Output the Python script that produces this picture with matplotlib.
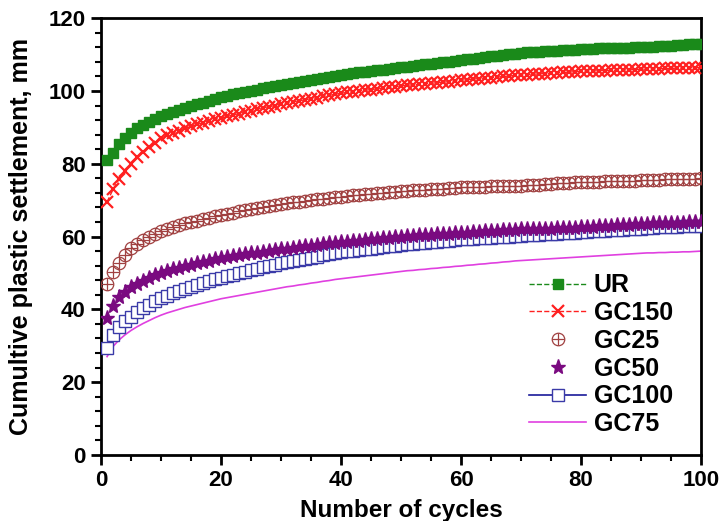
import matplotlib.pyplot as plt
from matplotlib.ticker import MultipleLocator

plt.rcParams['font.family'] = ['Liberation Sans', 'DejaVu Sans']
plt.rcParams['font.weight'] = 'bold'

cycles = list(range(1, 101))

ur = [81.0, 83.0, 85.3, 87.0, 88.5, 89.7, 90.6, 91.4, 92.2, 93.0,
      93.6, 94.2, 94.8, 95.3, 95.8, 96.3, 96.8, 97.3, 97.8, 98.3,
      98.7, 99.1, 99.5, 99.8, 100.1, 100.4, 100.7, 101.0, 101.3, 101.6,
      101.9, 102.2, 102.5, 102.8, 103.1, 103.4, 103.7, 103.9, 104.2, 104.5,
      104.7, 104.9, 105.1, 105.3, 105.5, 105.7, 105.9, 106.1, 106.3, 106.5,
      106.7, 106.9, 107.1, 107.3, 107.5, 107.7, 107.9, 108.1, 108.3, 108.5,
      108.7, 108.9, 109.1, 109.3, 109.5, 109.7, 109.9, 110.1, 110.3, 110.5,
      110.6, 110.7, 110.8, 110.9, 111.0, 111.1, 111.2, 111.3, 111.4, 111.5,
      111.6, 111.6, 111.7, 111.7, 111.8, 111.8, 111.9, 111.9, 112.0, 112.0,
      112.1, 112.2, 112.3, 112.4, 112.5, 112.6, 112.7, 112.8, 112.9, 113.0]

gc150 = [69.5, 73.0, 75.8, 78.0, 80.0, 81.8, 83.3, 84.6, 85.8, 87.0,
         87.8, 88.5, 89.1, 89.7, 90.3, 90.8, 91.3, 91.8, 92.2, 92.6,
         93.0, 93.4, 93.8, 94.2, 94.6, 95.0, 95.4, 95.7, 96.0, 96.4,
         96.7, 97.0, 97.3, 97.6, 97.9, 98.2, 98.5, 98.8, 99.1, 99.4,
         99.6, 99.8, 100.0, 100.2, 100.4, 100.6, 100.8, 101.0, 101.2, 101.4,
         101.6, 101.7, 101.8, 102.0, 102.1, 102.3, 102.4, 102.6, 102.8, 103.0,
         103.1, 103.3, 103.4, 103.6, 103.7, 103.8, 104.0, 104.1, 104.3, 104.4,
         104.5, 104.6, 104.7, 104.8, 104.9, 105.0, 105.1, 105.2, 105.3, 105.4,
         105.5, 105.5, 105.6, 105.6, 105.7, 105.7, 105.8, 105.8, 105.9, 106.0,
         106.0, 106.1, 106.1, 106.2, 106.2, 106.3, 106.3, 106.4, 106.4, 106.5]

gc25 = [47.0, 50.2, 52.8, 55.0, 56.8, 58.0, 59.1, 60.0, 60.8, 61.5,
        62.1, 62.6, 63.1, 63.6, 64.0, 64.4, 64.8, 65.2, 65.6, 66.0,
        66.3, 66.6, 66.9, 67.2, 67.5, 67.8, 68.1, 68.4, 68.7, 69.0,
        69.2, 69.4, 69.6, 69.8, 70.0, 70.2, 70.4, 70.6, 70.8, 71.0,
        71.1, 71.3, 71.4, 71.6, 71.7, 71.9, 72.0, 72.2, 72.3, 72.5,
        72.6, 72.7, 72.8, 72.9, 73.0, 73.1, 73.2, 73.3, 73.4, 73.5,
        73.6, 73.6, 73.7, 73.7, 73.8, 73.8, 73.9, 73.9, 74.0, 74.0,
        74.1, 74.2, 74.3, 74.4, 74.5, 74.6, 74.7, 74.8, 74.9, 75.0,
        75.0, 75.1, 75.1, 75.2, 75.2, 75.3, 75.3, 75.4, 75.4, 75.5,
        75.5, 75.6, 75.6, 75.7, 75.7, 75.8, 75.8, 75.9, 75.9, 76.0]

gc50 = [37.5, 41.0, 43.3, 44.8, 46.0, 47.0, 47.9, 48.7, 49.4, 50.0,
        50.5, 51.0, 51.4, 51.8, 52.2, 52.6, 53.0, 53.3, 53.7, 54.0,
        54.3, 54.6, 54.9, 55.1, 55.4, 55.6, 55.8, 56.0, 56.3, 56.5,
        56.7, 56.9, 57.1, 57.3, 57.5, 57.7, 57.9, 58.1, 58.3, 58.5,
        58.6, 58.8, 58.9, 59.1, 59.2, 59.4, 59.5, 59.7, 59.8, 60.0,
        60.1, 60.2, 60.3, 60.4, 60.5, 60.6, 60.7, 60.8, 60.9, 61.0,
        61.1, 61.2, 61.3, 61.4, 61.5, 61.6, 61.7, 61.8, 61.9, 62.0,
        62.0, 62.1, 62.1, 62.2, 62.2, 62.3, 62.3, 62.4, 62.4, 62.5,
        62.6, 62.7, 62.8, 62.9, 63.0, 63.1, 63.2, 63.3, 63.4, 63.5,
        63.5, 63.6, 63.6, 63.7, 63.7, 63.8, 63.8, 63.9, 63.9, 64.0]

gc100 = [29.5, 32.8, 35.0, 36.7, 38.0, 39.2, 40.3, 41.3, 42.2, 43.0,
         43.7, 44.4, 45.0, 45.6, 46.2, 46.7, 47.2, 47.7, 48.2, 48.7,
         49.1, 49.5, 49.9, 50.3, 50.7, 51.1, 51.5, 51.9, 52.3, 52.7,
         53.0, 53.3, 53.6, 53.9, 54.2, 54.5, 54.8, 55.1, 55.4, 55.7,
         55.9, 56.1, 56.3, 56.5, 56.7, 56.9, 57.1, 57.3, 57.5, 57.7,
         57.9, 58.0, 58.2, 58.3, 58.5, 58.6, 58.8, 58.9, 59.1, 59.2,
         59.3, 59.4, 59.5, 59.6, 59.7, 59.8, 59.9, 60.0, 60.1, 60.2,
         60.3, 60.4, 60.5, 60.6, 60.7, 60.8, 60.9, 61.0, 61.1, 61.2,
         61.3, 61.4, 61.5, 61.6, 61.7, 61.8, 61.9, 62.0, 62.1, 62.2,
         62.3, 62.4, 62.5, 62.5, 62.6, 62.7, 62.8, 62.8, 62.9, 63.0]

gc75 = [27.0, 29.8, 31.6, 33.0, 34.2, 35.2, 36.1, 36.9, 37.7, 38.4,
        39.0, 39.5, 40.0, 40.5, 40.9, 41.3, 41.7, 42.1, 42.5, 42.9,
        43.2, 43.5, 43.8, 44.1, 44.4, 44.7, 45.0, 45.3, 45.6, 45.9,
        46.2, 46.4, 46.7, 46.9, 47.2, 47.4, 47.7, 47.9, 48.2, 48.4,
        48.6, 48.8, 49.0, 49.2, 49.4, 49.6, 49.8, 50.0, 50.2, 50.4,
        50.6, 50.7, 50.9, 51.0, 51.2, 51.3, 51.5, 51.6, 51.8, 51.9,
        52.1, 52.2, 52.4, 52.5, 52.7, 52.8, 53.0, 53.1, 53.3, 53.4,
        53.5, 53.6, 53.7, 53.8, 53.9, 54.0, 54.1, 54.2, 54.3, 54.4,
        54.5, 54.6, 54.7, 54.8, 54.9, 55.0, 55.1, 55.2, 55.3, 55.4,
        55.5, 55.5, 55.6, 55.6, 55.7, 55.7, 55.8, 55.8, 55.9, 56.0]


fig = plt.figure(figsize=(7.22, 5.21), dpi=100)
ax = fig.add_axes([0.140, 0.127, 0.831, 0.838])

h75, = ax.plot(cycles, gc75, color='#e040e0', lw=1.2, zorder=2)
h100, = ax.plot(cycles, gc100, color='#1a1a9a', lw=1.2, marker='s', ms=8,
                mfc='white', mec='#3a3aa8', mew=1.0, zorder=3)
h50, = ax.plot(cycles, gc50, color='#7a0a80', lw=0, marker='*', ms=11,
               zorder=4)
# circle with a plus inside
h25a, = ax.plot(cycles, gc25, lw=0, marker='o', ms=9, mfc='none',
                mec='#a04040', mew=0.9, zorder=4)
h25b, = ax.plot(cycles, gc25, lw=0, marker='+', ms=9,
                mec='#a04040', mew=0.9, zorder=4)
h150, = ax.plot(cycles, gc150, color='#ff2020', ls='--', lw=1, marker='x',
                ms=8, mew=1.6, zorder=5)
hur, = ax.plot(cycles, ur, color='#1a8a1a', ls='--', lw=1, marker='s', ms=7,
               zorder=6)

ax.set_xlim(0, 100)
ax.set_ylim(0, 120)
ax.xaxis.set_major_locator(MultipleLocator(20))
ax.xaxis.set_minor_locator(MultipleLocator(5))
ax.yaxis.set_major_locator(MultipleLocator(20))
ax.yaxis.set_minor_locator(MultipleLocator(4))
ax.tick_params(which='major', direction='out', length=7, width=2,
               labelsize=16, pad=4)
ax.tick_params(which='minor', direction='out', length=4, width=1.5)
for sp in ax.spines.values():
    sp.set_linewidth(2)

ax.set_xlabel('Number of cycles', fontsize=17.5, fontweight='bold', labelpad=6)
ax.set_ylabel('Cumultive plastic settlement, mm', fontsize=18,
              fontweight='bold', labelpad=11)

leg = ax.legend([hur, h150, (h25a, h25b), h50, h100, h75],
                ['UR', 'GC150', 'GC25', 'GC50', 'GC100', 'GC75'],
                loc='lower right', frameon=False, fontsize=18,
                handlelength=2.3, handletextpad=0.3, labelspacing=0.15,
                borderaxespad=0, bbox_to_anchor=(0.97, 0.02))
for t in leg.get_texts():
    t.set_fontweight('bold')

fig.savefig('out.png', dpi=100)
